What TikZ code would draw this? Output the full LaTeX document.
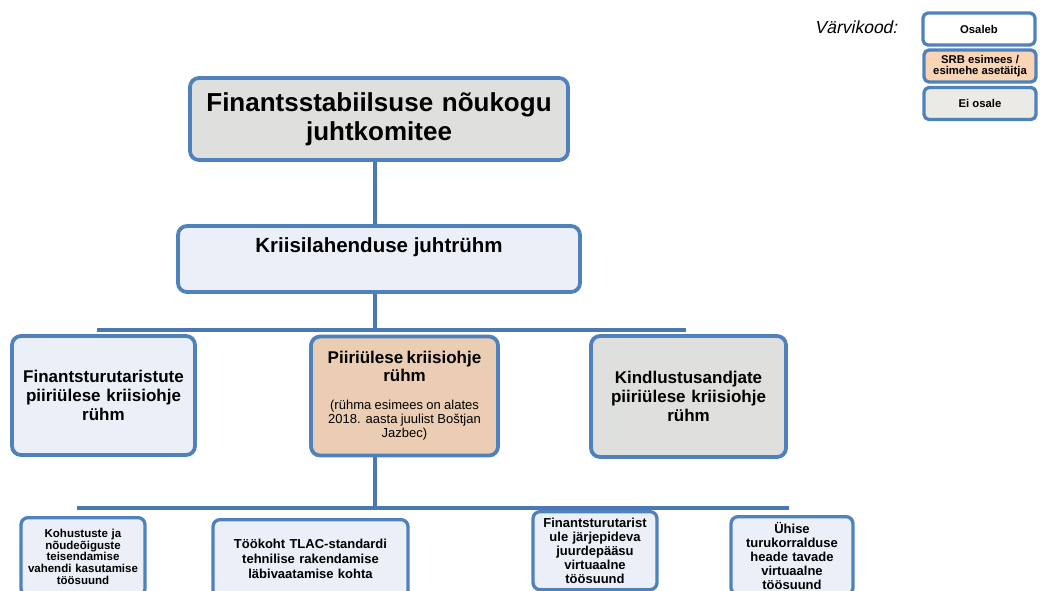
\documentclass[tikz,border=0pt]{standalone}
\usepackage{fontspec}
\setmainfont{Liberation Sans}[BoldFont={Liberation Sans Bold}]
\newfontfamily\slantfont{Liberation Sans}[FakeSlant=0.21]
\usepackage{xcolor}
\usetikzlibrary{calc}
\definecolor{boxline}{HTML}{4F81BD}
\definecolor{linkblue}{HTML}{4A78B4}
\definecolor{grayfill}{HTML}{DFE0DD}
\definecolor{bluefill}{HTML}{EBEFF7}
\definecolor{tanfill}{HTML}{EBCDB3}
\definecolor{peachfill}{HTML}{F9D5B6}
\definecolor{beigefill}{HTML}{ECEAE4}

\begin{document}
\begin{tikzpicture}[x=1pt,y=-1pt,line cap=round,line join=round,
  orgbox/.style={draw=boxline,line width=3.8pt,rounded corners=9pt,align=center,inner sep=3pt},
  smallbox/.style={orgbox,fill=bluefill,line width=3.3pt,rounded corners=7pt,anchor=north,minimum height=78pt},
  keybox/.style={draw=boxline,line width=3.3pt,rounded corners=5pt,fill=white,minimum width=112pt,minimum height=32pt,align=center,inner sep=1pt,font=\fontsize{11.3}{11.5}\selectfont\bfseries},
  link/.style={draw=linkblue,line width=4pt,line cap=butt}]
\useasboundingbox (0,0) rectangle (1040,590);
\clip (0,0) rectangle (1040,590);

\node[font=\slantfont\fontsize{17.5}{19}\selectfont] (vkood) at (856,27) {Värvikood:};
\node[keybox] (osaleb) at (979,29) {Osaleb};
\node[keybox,fill=peachfill] (srb) at (980,66) {SRB esimees /\\esimehe asetäitja};
\node[keybox,fill=beigefill] (eiosale) at (980,103.5) {Ei osale};

\node[orgbox,fill=grayfill,minimum width=378pt,minimum height=82pt,text width=370pt,font=\fontsize{26}{29}\selectfont\bfseries] (komitee) at (379,119) {Finantsstabiilsuse nõukogu\\juhtkomitee};
\node[orgbox,fill=bluefill,minimum width=402pt,text height=20pt,text depth=34pt,inner ysep=6pt,font=\fontsize{20.5}{22}\selectfont\bfseries] (juht) at (379,259) {Kriisilahenduse juhtrühm};

\node[orgbox,fill=bluefill,minimum width=183pt,minimum height=119pt,text width=175pt,font=\fontsize{17}{19}\selectfont\bfseries] (fmi) at (103.5,395.5) {Finantsturutaristute\\piiriülese kriisiohje\\rühm};
\node[orgbox,fill=tanfill,minimum width=187pt,minimum height=119pt,text width=178pt] (piiri) at (404.5,396) {{\fontsize{17}{18}\selectfont\bfseries Piiriülese kriisiohje\\rühm\par}\vspace{14pt}{\fontsize{13}{14}\selectfont (rühma esimees on alates\\2018. aasta juulist Boštjan\\Jazbec)\par}};
\node[orgbox,fill=grayfill,minimum width=195pt,minimum height=121pt,text width=185pt,font=\fontsize{17}{19}\selectfont\bfseries] (kind) at (688.5,396.5) {Kindlustusandjate\\piiriülese kriisiohje\\rühm};

\node[smallbox,minimum width=124pt,text width=118pt,font=\fontsize{11.5}{11.7}\selectfont\bfseries] (kohus) at (83,516) {Kohustuste ja\\nõudeõiguste\\teisendamise\\vahendi kasutamise\\töösuund};
\node[smallbox,minimum width=195pt,text width=186pt,font=\fontsize{13}{15}\selectfont\bfseries] (tlac) at (310.5,518) {Töökoht TLAC-standardi\\tehnilise rakendamise\\läbivaatamise kohta};
\node[smallbox,minimum width=124pt,text width=118pt,font=\fontsize{13}{14}\selectfont\bfseries] (juurde) at (595,510) {Finantsturutarist\\ule järjepideva\\juurdepääsu\\virtuaalne\\töösuund};
\node[smallbox,minimum width=122pt,text width=116pt,font=\fontsize{13}{14}\selectfont\bfseries] (turg) at (792,515) {Ühise\\turukorralduse\\heade tavade\\virtuaalne\\töösuund};

\coordinate (spine) at (375,0);
\coordinate (bar3w) at (97,330);
\coordinate (bar3e) at (686,330);
\coordinate (bar4w) at (77,508);
\coordinate (bar4e) at (789,508);
\draw[link] (komitee.south -| spine) -- (juht.north -| spine);
\draw[link] (juht.south -| spine) -- (spine |- bar3w);
\draw[link] (bar3w) -- (bar3e);
\draw[link] (piiri.south -| spine) -- (spine |- bar4w);
\draw[link] (bar4w) -- (bar4e);
\end{tikzpicture}
\end{document}
